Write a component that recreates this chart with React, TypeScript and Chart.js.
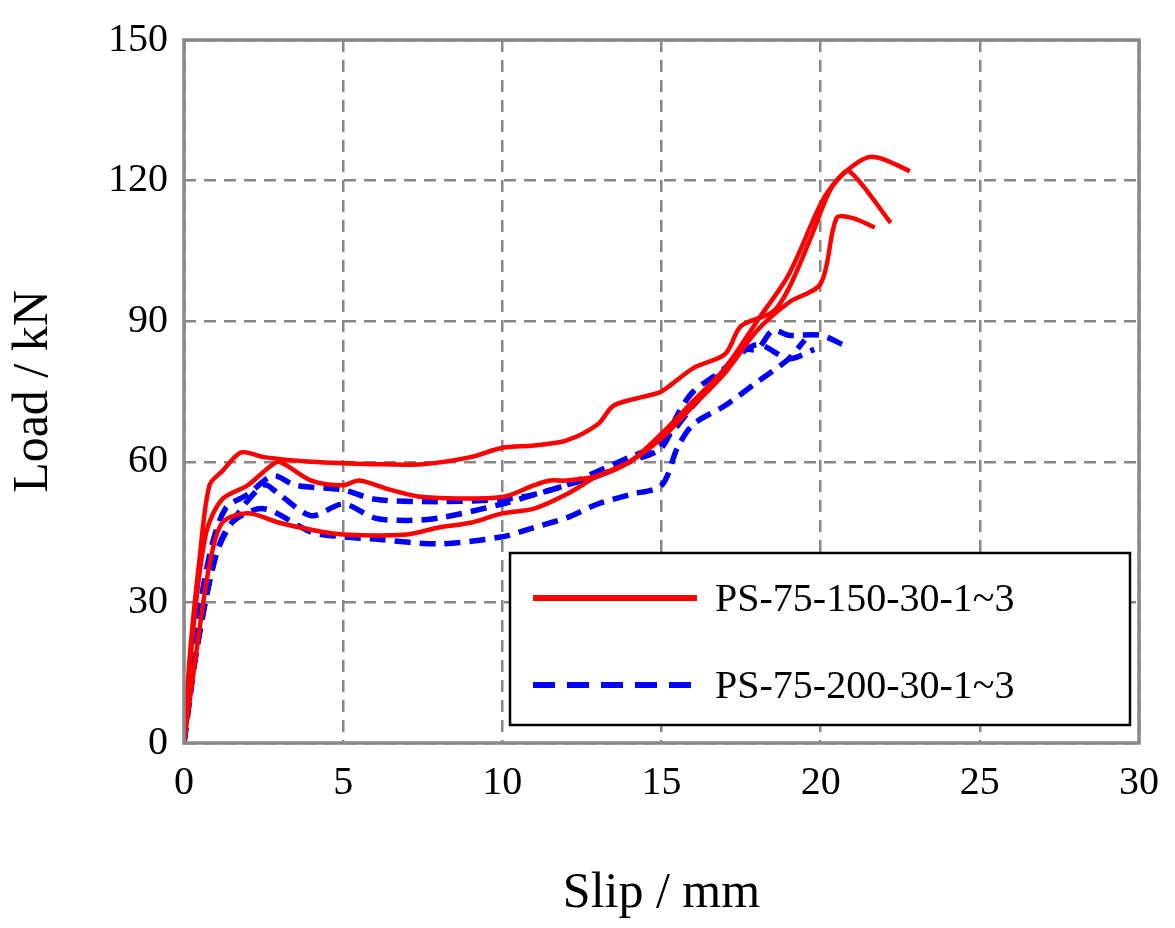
import React, { useEffect, useRef } from "react";
import { Chart, registerables } from "chart.js";
Chart.register(...registerables);

const xTicks = [0, 5, 10, 15, 20, 25, 30];
const yTicks = [0, 30, 60, 90, 120, 150];
const legendLabels = ["PS-75-150-30-1~3", "PS-75-200-30-1~3"];

const redA: [number, number][] = [[0,0],[0.2,20],[0.5,40],[0.8,55],[1.2,58],[1.8,62],[2.5,61],[4,60],[6,59.5],[7.5,59.5],[9,61],[10,63],[11,63.5],[12,64.5],[13,68],[13.5,72],[14.5,74],[15,75],[16,80],[17,83],[17.5,89],[18.5,92],[19,97],[19.7,108],[20.3,118],[20.8,122],[21.5,125],[22,124.5],[22.8,122]];
const redB: [number, number][] = [[0,0],[0.3,25],[0.7,45],[1.2,52],[2,55],[2.7,59],[3,60],[4,56],[5,55],[5.5,56],[6.5,54],[7.5,52.5],[10,52.5],[11,55],[11.5,56],[12,56],[13,57],[14,60],[15,66],[16,73],[17,80],[18,90],[19,100],[20,115],[20.5,120],[20.9,122],[22.2,111]];
const redC: [number, number][] = [[0,0],[0.4,20],[0.8,38],[1.2,47],[2,49],[3,47],[4,45.5],[5,44.5],[7,44.5],[8,46],[9,47],[10,49],[11,50],[12,53],[13,57],[14,60],[15,65],[16,72],[17,79],[18,88],[19,94],[20,98],[20.5,112],[21,112],[21.7,110]];
const blueA: [number, number][] = [[0,0],[0.3,20],[0.8,40],[1.3,50],[2,53],[2.8,57],[3.5,55],[5,54],[6,52],[8,51.5],[10,52],[11,53],[12,55],[13,57],[14,60],[15,63],[15.5,70],[16,75],[17,80],[17.5,84],[18,84],[18.5,88],[19,87],[20,87],[20.7,85]];
const blueB: [number, number][] = [[0,0],[0.4,20],[1,40],[1.5,47],[2.5,55],[3,53],[4,48.5],[5,51],[6,48],[7,47.5],[8,48],[10,51],[11,53],[12,55],[13,58],[14,61],[15,64],[16,72],[17,80],[18,85],[19,82],[19.8,84]];
const blueC: [number, number][] = [[0,0],[0.4,20],[1,40],[1.5,47],[2.5,50],[4,45],[5,44],[6,43.5],[8,42.5],[10,44],[11,46],[12,48],[13,51],[14,53],[15,55],[15.5,63],[16,68],[17,72],[18,77],[19,82],[19.5,86]];

const RED = "#ff0000";
const BLUE = "#0000ff";
const FONT = "'Liberation Serif', 'Times New Roman', serif";

const framePlugin = {
  id: "frame",
  afterDraw(chart: any) {
    const ctx = chart.ctx;
    const a = chart.chartArea;
    ctx.save();
    ctx.strokeStyle = "#888";
    ctx.lineWidth = 3.5;
    ctx.setLineDash([]);
    ctx.strokeRect(a.left, a.top, a.right - a.left, a.bottom - a.top);
    ctx.fillStyle = "#fff";
    ctx.fillRect(510, 553, 620, 172);
    ctx.strokeStyle = "#000";
    ctx.lineWidth = 2.5;
    ctx.strokeRect(510, 553, 620, 172);
    const rows = [
      { y: 598, color: RED, dash: [] as number[] },
      { y: 685, color: BLUE, dash: [22, 12] },
    ];
    rows.forEach((r, i) => {
      ctx.strokeStyle = r.color;
      ctx.lineWidth = 6;
      ctx.setLineDash(r.dash);
      ctx.beginPath();
      ctx.moveTo(533, r.y);
      ctx.lineTo(697, r.y);
      ctx.stroke();
      ctx.setLineDash([]);
      ctx.fillStyle = "#000";
      ctx.font = `40px ${FONT}`;
      ctx.textBaseline = "middle";
      ctx.fillText(legendLabels[i], 715, r.y + 2);
    });
    ctx.restore();
  },
};

export default function App() {
  const ref = useRef<HTMLCanvasElement>(null);
  useEffect(() => {
    document.body.style.margin = "0";
    const mk = (d: [number, number][], c: string, dash: number[], w: number) => ({
      data: d.map(([x, y]) => ({ x, y })),
      borderColor: c,
      borderWidth: w,
      borderDash: dash,
      pointRadius: 0,
      fill: false,
      tension: 0.3,
    });
    const axisCommon = {
      type: "linear",
      grid: { color: "#888", lineWidth: 2.5, drawTicks: false },
      border: { display: false, dash: [12, 8] },
      ticks: { font: { family: FONT, size: 40 }, color: "#000", padding: 16 },
    };
    const chart = new Chart(ref.current!, {
      type: "line",
      data: {
        datasets: [
          mk(redA, RED, [], 4.5), mk(redB, RED, [], 4.5), mk(redC, RED, [], 4.5),
          mk(blueA, BLUE, [16, 9], 5.5), mk(blueB, BLUE, [16, 9], 5.5), mk(blueC, BLUE, [16, 9], 5.5),
        ],
      },
      options: {
        responsive: false,
        animation: false,
        layout: { padding: { top: 8, right: 32, left: 0, bottom: 0 } },
        plugins: { legend: { display: false }, tooltip: { enabled: false } },
        scales: {
          x: {
            ...axisCommon, min: 0, max: 30,
            afterBuildTicks: (s: any) => { s.ticks = xTicks.map((v) => ({ value: v })); },
            afterFit: (s: any) => { s.height = 185; },
            title: { display: true, text: "Slip / mm", font: { family: FONT, size: 50 }, color: "#000", padding: { top: 4 } },
          },
          y: {
            ...axisCommon, min: 0, max: 150,
            afterBuildTicks: (s: any) => { s.ticks = yTicks.map((v) => ({ value: v })); },
            afterFit: (s: any) => { s.width = 184; },
            title: { display: true, text: "Load / kN", font: { family: FONT, size: 50 }, color: "#000" },
          },
        },
      } as any,
      plugins: [framePlugin],
    });
    return () => chart.destroy();
  }, []);
  return <canvas ref={ref} width={1175} height={928} style={{ display: "block" }} />;
}
